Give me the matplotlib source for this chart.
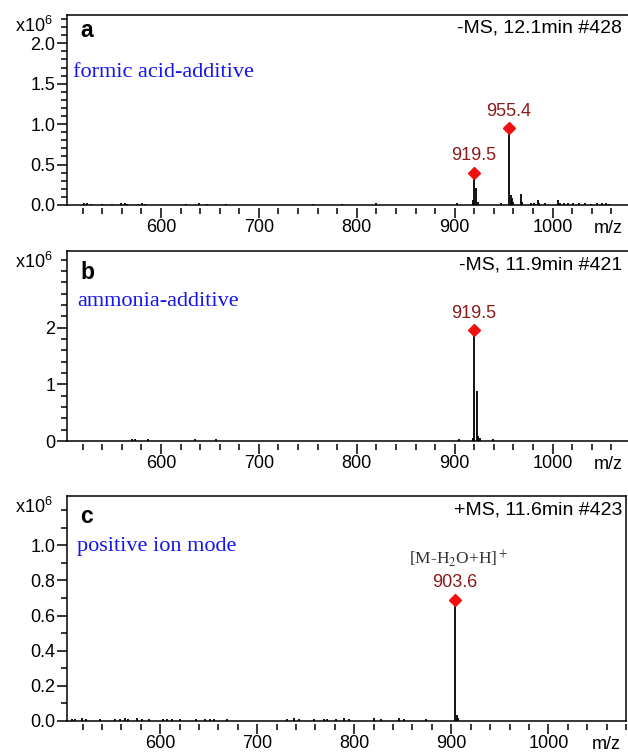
import matplotlib
matplotlib.use("Agg")
import matplotlib.pyplot as plt
from matplotlib.ticker import MultipleLocator, FixedLocator, FormatStrFormatter

plt.rcParams['font.family'] = ['Liberation Sans', 'DejaVu Sans']
plt.rcParams['mathtext.fontset'] = 'custom'
plt.rcParams['mathtext.rm'] = 'Liberation Sans'
plt.rcParams['mathtext.it'] = 'Liberation Sans:italic'

# spectre a : additif acide formique (-MS), intensites en x10^6
mz_a = [521.4, 524.5, 528.6, 539.8, 550.0, 559.0, 563.0, 565.0, 576.5, 580.6,
        583.7, 625.5, 638.8, 647.0, 666.0, 755.0, 784.5, 820.0, 902.7, 918.4,
        919.5, 922.0, 923.5, 947.6, 955.4, 957.0, 958.5, 960.0, 967.3, 969.0,
        978.0, 981.0, 984.7, 986.0, 992.0, 1005.0, 1008.0, 1012.0, 1016.0, 1021.0,
        1027.0, 1033.0, 1039.0, 1045.0, 1050.0, 1055.0, 1058.0]
int_a = [0.02, 0.02, 0.015, 0.015, 0.015, 0.02, 0.02, 0.015, 0.015, 0.02,
         0.015, 0.015, 0.02, 0.015, 0.015, 0.015, 0.015, 0.02, 0.025, 0.06,
         0.40, 0.21, 0.04, 0.02, 0.95, 0.12, 0.08, 0.04, 0.13, 0.04,
         0.03, 0.02, 0.06, 0.03, 0.02, 0.06, 0.03, 0.03, 0.025, 0.02,
         0.02, 0.02, 0.015, 0.02, 0.02, 0.02, 0.015]
pics_a = [919.5, 955.4]
pics_int_a = [0.40, 0.95]

# spectre b : additif ammoniaque (-MS)
mz_b = [570.0, 573.5, 586.7, 634.7, 655.8, 904.4, 918.5, 919.5, 922.7, 924.0, 925.5, 939.0]
int_b = [0.03, 0.03, 0.03, 0.03, 0.03, 0.04, 0.05, 1.96, 0.88, 0.09, 0.06, 0.04]
pics_b = [919.5]
pics_int_b = [1.96]

# spectre c : mode ions positifs (+MS)
mz_c = [508.7, 512.0, 519.0, 524.0, 538.0, 553.5, 558.6, 563.8, 566.9, 576.0,
        581.0, 588.0, 603.4, 607.0, 612.0, 620.7, 637.0, 646.5, 651.7, 655.0,
        669.0, 731.0, 737.8, 743.0, 758.5, 769.0, 772.4, 781.0, 789.6, 795.0,
        820.6, 827.5, 846.0, 851.6, 874.0, 903.6, 905.5, 907.0]
int_c = [0.012, 0.01, 0.015, 0.012, 0.01, 0.01, 0.012, 0.015, 0.012, 0.015,
         0.01, 0.012, 0.012, 0.01, 0.012, 0.01, 0.012, 0.01, 0.012, 0.01,
         0.012, 0.012, 0.015, 0.012, 0.01, 0.012, 0.01, 0.012, 0.015, 0.01,
         0.015, 0.012, 0.015, 0.012, 0.012, 0.69, 0.035, 0.015]
pics_c = [903.6]
pics_int_c = [0.69]

titres = ["-MS, 12.1min #428", "-MS, 11.9min #421", "+MS, 11.6min #423"]
lettres = ["a", "b", "c"]
conditions = ["formic acid-additive", "ammonia-additive", "positive ion mode"]
yticks_maj = [[0.0, 0.5, 1.0, 1.5, 2.0],
              [0, 1, 2],
              [0.0, 0.2, 0.4, 0.6, 0.8, 1.0]]

ROUGE_FONCE = '#8b1a1a'
BLEU = '#1414f0'

fig = plt.figure(figsize=(6.28, 7.53), dpi=100)

# positions en fraction de figure (a et b vont jusqu'au bord droit)
positions = [[0.1067, 0.7278, 0.8933, 0.2523],
             [0.1067, 0.4143, 0.8933, 0.2523],
             [0.1067, 0.0425, 0.8901, 0.2988]]
ylims = [2.35, 3.35, 1.28]
xlims = [(504, 1077), (504, 1077), (504, 1080)]
y_minor = [0.1, 0.2, 0.1]
y_fmt = ['%.1f', '%d', '%.1f']
cadre_droit = [False, False, True]
# decalages (pixels) sous le cadre
dy_lettre = [22, 28, 27]
dy_cond = [62, 55, 55]
dx_cond = [6, 10, 10]
dx_titre = [6, 6, 4]

donnees = [(mz_a, int_a, pics_a, pics_int_a),
           (mz_b, int_b, pics_b, pics_int_b),
           (mz_c, int_c, pics_c, pics_int_c)]

px = 0.72  # points par pixel a 100 dpi

for i, (mz, inten, pics, pics_int) in enumerate(donnees):
    ax = fig.add_axes(positions[i])

    ax.vlines(mz, 0, inten, color='black', lw=1.3)
    ax.plot(pics, pics_int, linestyle='none', marker='D', ms=6.3,
            color='#f01010', mec='#f01010', zorder=5)
    for x, y in zip(pics, pics_int):
        ax.annotate(f"{x:.1f}", (x, y), xytext=(0, 6), textcoords='offset points',
                    ha='center', va='bottom', fontsize=13, color=ROUGE_FONCE)

    ax.set_xlim(*xlims[i])
    ax.set_ylim(0, ylims[i])
    ax.axhline(0, color='black', lw=1.1, clip_on=False)

    ax.spines['bottom'].set_visible(False)
    ax.spines['bottom'].set_position(('outward', 2))
    ax.spines['right'].set_visible(cadre_droit[i])
    for s in ['left', 'top', 'right']:
        ax.spines[s].set_linewidth(1.1)

    ax.xaxis.set_major_locator(MultipleLocator(100))
    ax.xaxis.set_minor_locator(MultipleLocator(20))
    ax.yaxis.set_major_locator(FixedLocator(yticks_maj[i]))
    ax.yaxis.set_minor_locator(MultipleLocator(y_minor[i]))
    ax.yaxis.set_major_formatter(FormatStrFormatter(y_fmt[i]))

    ax.tick_params(axis='x', which='major', direction='out', length=7.5, width=1.1,
                   labelsize=13, pad=0.5)
    ax.tick_params(axis='x', which='minor', direction='out', length=4.5, width=1.1)
    ax.tick_params(axis='y', which='major', direction='out', length=7, width=1.1,
                   labelsize=13, pad=1.5)
    ax.tick_params(axis='y', which='minor', direction='out', length=4.5, width=1.1)

    ax.annotate("m/z", (0.964, 0), xycoords='axes fraction', xytext=(0, -11),
                textcoords='offset points', ha='center', va='top', fontsize=13)
    ax.annotate("x10$^6$", (0, 1), xycoords='axes fraction', xytext=(-10, -12.5),
                textcoords='offset points', ha='right', va='baseline', fontsize=13)
    ax.annotate(lettres[i], (0, 1), xycoords='axes fraction',
                xytext=(13 * px, -dy_lettre[i] * px), textcoords='offset points',
                ha='left', va='baseline', fontsize=16.5, fontweight='bold')
    ax.annotate(conditions[i], (0, 1), xycoords='axes fraction',
                xytext=(dx_cond[i] * px, -dy_cond[i] * px), textcoords='offset points',
                ha='left', va='baseline', fontsize=16, color=BLEU,
                family='Liberation Serif')
    ax.annotate(titres[i], (1, 1), xycoords='axes fraction',
                xytext=(-dx_titre[i] * px, -18 * px), textcoords='offset points',
                ha='right', va='baseline', fontsize=14)

# ion du pic principal en mode positif
ax.annotate("[M-H$_2$O+H]$^+$", (pics_c[0], pics_int_c[0]), xytext=(3, 26),
            textcoords='offset points', ha='center', va='baseline', fontsize=12.5,
            color='#333333', family='Liberation Serif', math_fontfamily='stix')

fig.savefig("out.png", dpi=100)
